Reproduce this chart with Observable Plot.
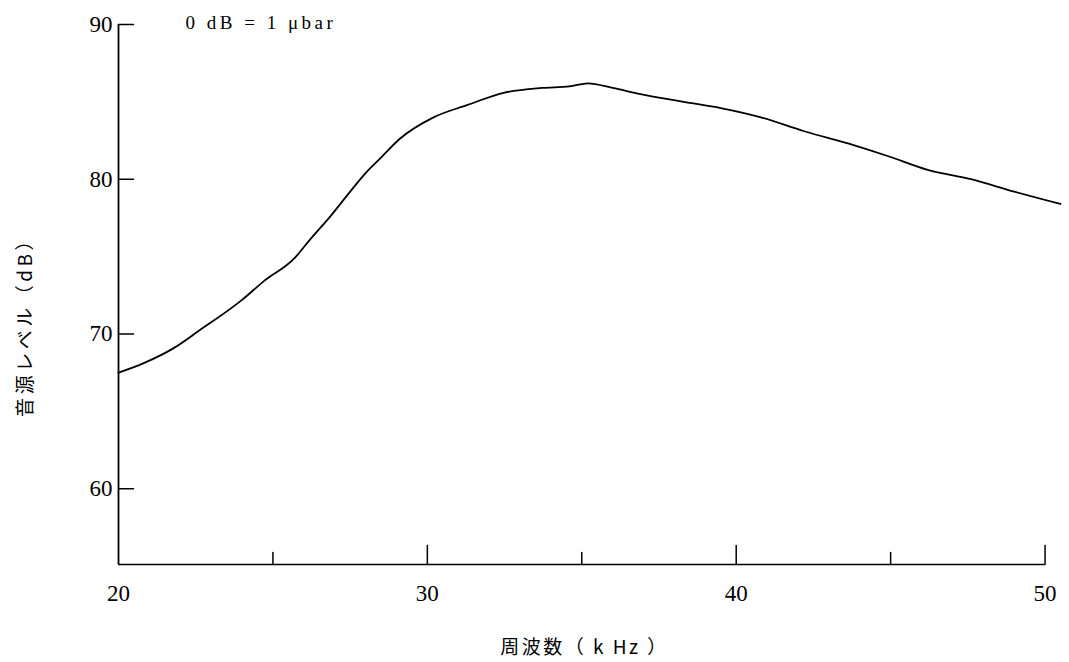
<!DOCTYPE html>
<html>
<head>
<meta charset="utf-8">
<script src="https://cdn.jsdelivr.net/npm/d3@7"></script>
<script src="https://cdn.jsdelivr.net/npm/@observablehq/plot@0.6"></script>
<style>
  html, body { margin: 0; padding: 0; background: white; }
</style>
</head>
<body>
<div id="chart"></div>
<script>
// Data
const freq  = [20, 20.8, 21.8, 22.6, 24.0, 24.7, 25.7, 26.2, 26.9, 27.5, 28.0, 28.5, 29.1, 30.2, 31.3, 32.5, 33.7, 34.6, 35.2, 36.0, 36.9, 38.3, 39.5, 40.8, 42.2, 43.8, 44.9, 46.2, 47.6, 49.0, 50.5];
const level = [67.5, 68.1, 69.1, 70.2, 72.2, 73.4, 74.9, 76.1, 77.7, 79.2, 80.4, 81.4, 82.6, 84.0, 84.8, 85.6, 85.9, 86.0, 86.2, 85.9, 85.5, 85.0, 84.6, 84.0, 83.1, 82.2, 81.5, 80.6, 80.0, 79.2, 78.4];
const xLabels = [20, 30, 40, 50];
const xMajorTicks = [30, 40, 50];
const xMinorTicks = [25, 35, 45];
const yTicks = [60, 70, 80, 90];
const xDomain = [20, 50.5];
const yDomain = [55.1, 90];
const xTitle = "周波数（ k Hz ）";
const yTitle = "音源レベル（dB）";
const note = "0 dB = 1 μbar";

const data = freq.map((f, i) => ({f, v: level[i]}));
const tickShape = {draw(ctx, l) { ctx.moveTo(0, 0); ctx.lineTo(0, -l); }};
const serif = "Liberation Serif, 'Noto Sans CJK JP', serif";

const chart = Plot.plot({
  width: 1069,
  height: 662,
  marginTop: 24,
  marginBottom: 98,
  marginLeft: 118,
  marginRight: 9,
  style: {fontFamily: serif, fontSize: "23px", background: "white", color: "black"},
  x: {domain: xDomain},
  y: {domain: yDomain},
  marks: [
    Plot.axisX(xLabels, {tickSize: 0, tickPadding: 20, label: null, fontSize: 23, tickFormat: d => String(d)}),
    Plot.axisY(yTicks, {tickSize: 0, tickPadding: 6, label: null, fontSize: 23, tickFormat: d => String(d)}),
    Plot.ruleY([yDomain[0]], {x1: 20, x2: 50, stroke: "black", strokeWidth: 1.5}),
    Plot.ruleX([20], {y1: yDomain[0], y2: 90, stroke: "black", strokeWidth: 1.8}),
    Plot.vector(xMajorTicks, {x: d => d, y: yDomain[0], length: 19, rotate: 0, anchor: "start", shape: tickShape, stroke: "black", strokeWidth: 1.5}),
    Plot.vector(xMinorTicks, {x: d => d, y: yDomain[0], length: 12, rotate: 0, anchor: "start", shape: tickShape, stroke: "black", strokeWidth: 1.5}),
    Plot.vector(yTicks, {x: 20, y: d => d, length: 15, rotate: 90, anchor: "start", shape: tickShape, stroke: "black", strokeWidth: 1.5}),
    Plot.line(data, {x: "f", y: "v", curve: "monotone-x", stroke: "black", strokeWidth: 1.8}),
    Plot.text([note], {frameAnchor: "top-left", dx: 67, dy: -2, textAnchor: "start", lineAnchor: "middle", fontSize: 19}),
    Plot.text([xTitle], {frameAnchor: "bottom", dx: -5, dy: 83, textAnchor: "middle", lineAnchor: "middle", fontSize: 19, fontFamily: "'Noto Sans CJK JP', sans-serif"}),
    Plot.text([yTitle], {frameAnchor: "left", dx: -93, dy: 28, rotate: -90, textAnchor: "middle", lineAnchor: "middle", fontSize: 19, fontFamily: "'Noto Sans CJK JP', sans-serif"})
  ]
});
const spacing = new Map([[note, "3.5px"], [xTitle, "2.5px"], [yTitle, "3.5px"]]);
d3.select(chart).selectAll("text").each(function() {
  const s = spacing.get(this.textContent);
  if (s) this.style.letterSpacing = s;
});
document.getElementById("chart").appendChild(chart);
</script>
</body>
</html>
